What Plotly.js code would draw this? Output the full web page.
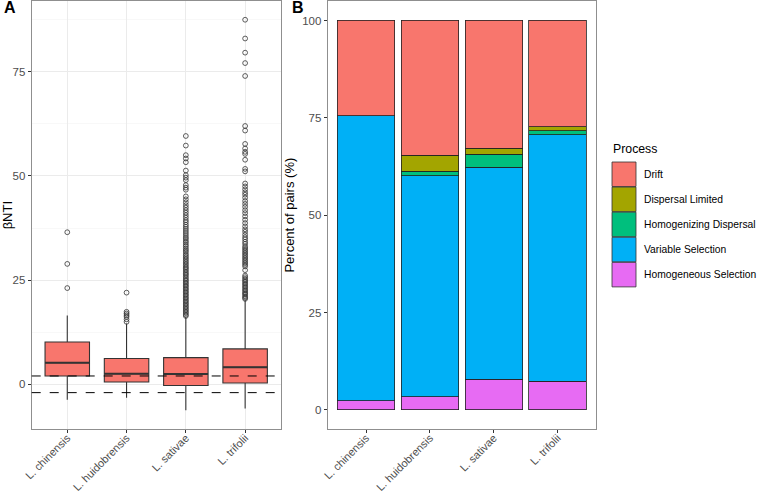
<!DOCTYPE html>
<html><head><meta charset="utf-8">
<script src="https://cdn.plot.ly/plotly-3.0.1.min.js"></script>
<style>html,body{margin:0;padding:0;background:#fff}#chart{width:760px;height:492px}</style>
</head><body><div id="chart"></div><script>
// ---- Panel A: betaNTI box plots ----
const species = ['L. chinensis', 'L. huidobrensis', 'L. sativae', 'L. trifolii'];
const q1 = [2.0, 0.55, -0.3, 0.3];
const median = [5.2, 2.55, 2.5, 4.1];
const q3 = [10.15, 6.2, 6.4, 8.5];
const lowerWhisker = [-3.7, -3.2, -6.2, -5.8];
const upperWhisker = [16.5, 14.6, 16.2, 20.3];
const outliersChinensis = [23.1, 28.9, 36.5];
const outliersHuidobrensis = [15.0, 15.6, 16.2, 16.6, 17.0, 17.4, 22.0];
const outliersSativae = [16.4, 16.7, 17.1, 17.4, 17.8, 18.1, 18.5, 18.8, 19.2, 19.5, 19.9, 20.2, 20.6, 20.9, 21.3, 21.6, 22.0, 22.3, 22.7, 23.0,
  23.4, 23.7, 24.1, 24.4, 24.8, 25.1, 25.5, 25.9, 26.3, 26.6, 27.0, 27.4, 27.8, 28.1, 28.5, 28.9, 29.3, 29.7, 30.1, 30.5,
  30.9, 31.3, 31.8, 32.2, 32.6, 33.1, 33.5, 34.0, 34.4, 34.9, 35.3, 35.8, 36.3, 36.8, 37.3, 37.8, 38.3, 38.9, 39.4, 40.0,
  40.6, 41.2, 41.8, 42.4, 43.0, 43.7, 44.4, 45.1, 46.7, 47.2, 47.8, 49.0, 49.6, 50.2, 51.3, 53.3, 54.2, 55.0, 57.3, 59.6];
const outliersTrifolii = [20.5, 20.8, 21.1, 21.5, 21.8, 22.1, 22.5, 22.8, 23.2, 23.5, 23.9, 24.2, 24.6, 24.9, 25.3, 25.7, 26.1, 27.4,
  28.3, 28.7, 29.1, 29.5, 29.9, 30.3, 30.7, 31.1, 31.5, 31.9, 32.3, 32.7, 33.1, 33.7, 34.2, 34.8, 35.3, 35.9, 36.6, 37.2,
  37.9, 38.7, 39.5, 40.3, 41.1, 41.8, 42.6, 43.3, 44.0, 44.8, 45.5, 46.1, 46.8, 47.5, 48.2, 51.1, 51.7, 53.9, 55.3, 55.8,
  56.6, 57.7, 60.9, 62.0, 74.0, 77.1, 79.6, 83.0, 87.5];
const outlierSets = [outliersChinensis, outliersHuidobrensis, outliersSativae, outliersTrifolii];
const nullBand = [-2, 2];

// ---- Panel B: stacked process percentages ----
const processes = ['Drift', 'Dispersal Limited', 'Homogenizing Dispersal', 'Variable Selection', 'Homogeneous Selection'];
const processColors = ['#F8766D', '#A3A500', '#00BF7D', '#00B0F6', '#E76BF3'];
const pctDrift = [24.5, 34.6, 32.8, 27.3];
const pctDispersalLimited = [0, 4.1, 1.5, 1.0];
const pctHomogenizingDispersal = [0, 1.2, 3.4, 1.0];
const pctVariableSelection = [73.2, 56.8, 54.5, 63.3];
const pctHomogeneousSelection = [2.3, 3.3, 7.8, 7.4];
const pctByProcess = [pctDrift, pctDispersalLimited, pctHomogenizingDispersal, pctVariableSelection, pctHomogeneousSelection];

const W = 760, H = 492;
const px = v => v / W, py = v => 1 - v / H;
const domA = [px(31.7), px(280.7)];
const domB = [px(327.7), px(596)];
const domY = [py(429.3), py(1)];
const boxWidth = 0.75;

const traces = [];
traces.push({
  type: 'box', x: species, q1: q1, median: median, q3: q3,
  lowerfence: lowerWhisker, upperfence: upperWhisker,
  width: boxWidth, whiskerwidth: 0, boxpoints: false,
  fillcolor: '#F8766D', line: {color: '#333333', width: 1.1},
  xaxis: 'x', yaxis: 'y', showlegend: false, hoverinfo: 'skip'
});
const ox = [], oy = [];
outlierSets.forEach((arr, i) => arr.forEach(v => { ox.push(species[i]); oy.push(v); }));
traces.push({
  type: 'scatter', mode: 'markers', x: ox, y: oy, xaxis: 'x', yaxis: 'y',
  marker: {symbol: 'circle-open', size: 4.8, color: '#333333', line: {width: 0.8, color: '#333333'}},
  showlegend: false, hoverinfo: 'skip'
});
// stack bottom -> top
for (let i = processes.length - 1; i >= 0; i--) {
  traces.push({
    type: 'bar', name: processes[i], x: species, y: pctByProcess[i], width: 0.9,
    marker: {color: processColors[i], line: {color: '#222222', width: 0.8}},
    xaxis: 'x2', yaxis: 'y2', showlegend: false, hoverinfo: 'skip'
  });
}

const FAM = 'Liberation Sans, Arial, sans-serif';
const tickFont = {family: FAM, size: 11.5, color: '#4D4D4D'};
const xTickFont = {family: FAM, size: 11, color: '#4D4D4D'};
const titleFont = {family: FAM, size: 13, color: '#000000'};
const axisCommon = {
  ticks: 'outside', ticklen: 3, tickcolor: '#333333', tickwidth: 1, tickfont: tickFont,
  showline: true, mirror: true, linecolor: '#8f8f8f', linewidth: 1, zeroline: false, automargin: false
};

const shapes = [];
// thicker median bars (ggplot fatten)
median.forEach((m, i) => shapes.push({type: 'line', xref: 'x', yref: 'y', x0: i - boxWidth / 2, x1: i + boxWidth / 2,
  y0: m, y1: m, line: {color: '#333333', width: 2}}));
nullBand.forEach(v => shapes.push({type: 'line', xref: 'paper', yref: 'y', x0: domA[0], x1: domA[1], y0: v, y1: v,
  line: {color: '#000000', width: 1, dash: 'dash'}}));
const annotations = [];
// legend built from process names/colours
annotations.push({xref: 'paper', yref: 'paper', x: px(611), y: py(149), xanchor: 'left', yanchor: 'middle',
  text: 'Process', showarrow: false, font: {family: FAM, size: 12.3, color: '#000000'}});
processes.forEach((p, i) => {
  const top = 162 + 25.1 * i;
  shapes.push({type: 'rect', xref: 'paper', yref: 'paper', x0: px(612), x1: px(636), y0: py(top), y1: py(top + 24.5),
    fillcolor: processColors[i], line: {color: '#333333', width: 0.8}});
  annotations.push({xref: 'paper', yref: 'paper', x: px(642), y: py(top + 12.2), xanchor: 'left', yanchor: 'middle',
    text: p, showarrow: false, font: {family: FAM, size: 10.3, color: '#000000'}});
});
annotations.push({xref: 'paper', yref: 'paper', x: px(2), y: py(8), xanchor: 'left', yanchor: 'middle', text: '<b>A</b>',
  showarrow: false, font: {family: FAM, size: 16, color: '#000000'}});
annotations.push({xref: 'paper', yref: 'paper', x: px(290), y: py(8), xanchor: 'left', yanchor: 'middle', text: '<b>B</b>',
  showarrow: false, font: {family: FAM, size: 16, color: '#000000'}});

const layout = {
  width: W, height: H, margin: {l: 0, r: 0, t: 0, b: 0},
  paper_bgcolor: '#ffffff', plot_bgcolor: '#ffffff',
  barmode: 'stack', showlegend: false,
  font: {family: FAM},
  xaxis: Object.assign({}, axisCommon, {domain: domA, anchor: 'y', type: 'category', range: [-0.6, 3.6],
    tickangle: -45, tickfont: xTickFont, ticklabelstandoff: -6, showgrid: true, gridcolor: '#EBEBEB', gridwidth: 1}),
  yaxis: Object.assign({}, axisCommon, {domain: domY, anchor: 'x', range: [-10.8, 92], tickvals: [0, 25, 50, 75],
    showgrid: true, gridcolor: '#EBEBEB', gridwidth: 1,
    minor: {tickvals: [-12.5, 12.5, 37.5, 62.5, 87.5], showgrid: true, gridcolor: '#F4F4F4', gridwidth: 0.6, ticks: ''},
    title: {text: 'βNTI', font: titleFont, standoff: 2}}),
  xaxis2: Object.assign({}, axisCommon, {domain: domB, anchor: 'y2', type: 'category', range: [-0.6, 3.6],
    tickangle: -45, tickfont: xTickFont, ticklabelstandoff: -6, showgrid: false}),
  yaxis2: Object.assign({}, axisCommon, {domain: domY, anchor: 'x2', range: [-5, 105], tickvals: [0, 25, 50, 75, 100],
    showgrid: false, title: {text: 'Percent of pairs (%)', font: titleFont, standoff: 4}}),
  shapes: shapes, annotations: annotations
};
Plotly.newPlot('chart', traces, layout, {displayModeBar: false, staticPlot: true});
</script></body></html>
